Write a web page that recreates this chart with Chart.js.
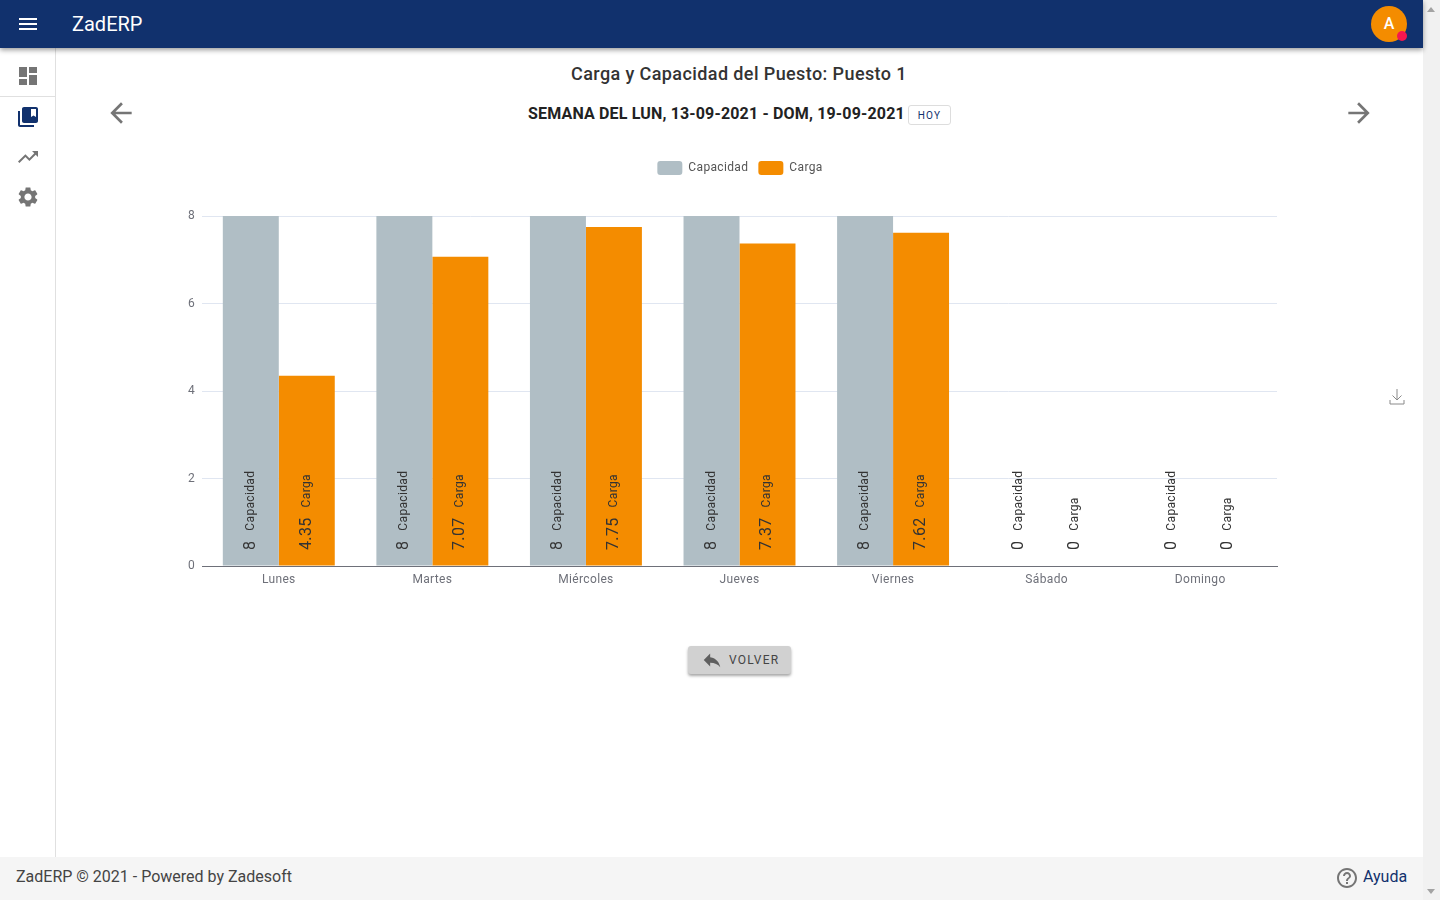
<!DOCTYPE html>
<html lang="es">
<head>
<meta charset="utf-8">
<title>ZadERP</title>
<script src="https://cdn.jsdelivr.net/npm/chart.js@4"></script>
<style>
  html, body { margin: 0; height: 100%; overflow: hidden; background: #fff; font-family: Roboto, sans-serif; }
  .abs { position: absolute; }
  svg { display: block; }
  .topbar { left: 0; top: 0; width: 1423px; height: 48px; background: #11316d; box-shadow: 0 2px 5px rgba(0,0,0,.4); z-index: 3; }
  .brand { left: 72px; top: 12px; color: #fff; font-size: 20px; line-height: 24px; }
  .avatar { left: 1371px; top: 6px; width: 36px; height: 36px; border-radius: 50%; background: #f48c00; color: #fff; font-size: 16px; font-weight: 500; line-height: 36px; text-align: center; }
  .dot { left: 1397px; top: 31px; width: 10px; height: 10px; border-radius: 50%; background: #f5174f; }
  .sidebar { left: 0; top: 48px; width: 55px; height: 809px; border-right: 1px solid #e0e0e0; }
  .divider { left: 0; top: 96px; width: 55px; height: 1px; background: #e0e0e0; }
  .title { left: 0; width: 1478px; top: 62px; text-align: center; font-size: 18px; font-weight: 500; letter-spacing: .4px; line-height: 24px; color: #333; }
  .week { left: 528px; top: 104px; font-size: 16px; font-weight: 700; letter-spacing: .16px; line-height: 20px; color: #222; white-space: nowrap; }
  .hoy { left: 908px; top: 105px; width: 41px; height: 18px; border: 1px solid #ddd; border-radius: 3px; color: #11316d; font-size: 10px; letter-spacing: 1.2px; line-height: 19px; text-align: center; }
  #chartBox { left: 140px; top: 150px; width: 1200px; height: 450px; }
  .volver { left: 688px; top: 646px; width: 103px; height: 28px; background: #d1d1d1; border-radius: 3px; box-shadow: 0 2px 3px rgba(0,0,0,.35); color: #444; font-size: 12px; letter-spacing: 1.2px; line-height: 28px; }
  .volver span { position: absolute; left: 41px; }
  .footer { left: 0; top: 857px; width: 1423px; height: 43px; background: #f5f5f5; color: #444; font-size: 16px; line-height: 39px; }
  .footer .copy { position: absolute; left: 16px; }
  .footer .ayuda { position: absolute; left: 1363px; color: #11316d; }
  .scroll { left: 1423px; top: 0; width: 17px; height: 900px; background: #f1f1f1; }
  .up { left: 1427px; top: 7px; width: 0; height: 0; border: 4px solid transparent; border-top: 0; border-bottom: 5px solid #a3a3a3; }
  .down { left: 1427px; top: 889px; width: 0; height: 0; border: 4px solid transparent; border-bottom: 0; border-top: 5px solid #a3a3a3; }
</style>
</head>
<body>

<div class="abs topbar">
  <svg class="abs" style="left:16px;top:12px" width="24" height="24" viewBox="0 0 24 24" fill="#fff"><path d="M3 18h18v-2H3v2zm0-5h18v-2H3v2zm0-7v2h18V6H3z"/></svg>
  <div class="abs brand">ZadERP</div>
  <div class="abs avatar">A</div>
  <div class="abs dot"></div>
</div>

<div class="abs sidebar"></div>
<div class="abs divider"></div>
<svg class="abs" style="left:16px;top:64px" width="24" height="24" viewBox="0 0 24 24" fill="#757575"><path d="M3 13h8V3H3v10zm0 8h8v-6H3v6zm10 0h8V11h-8v10zm0-18v6h8V3h-8z"/></svg>
<svg class="abs" style="left:16px;top:105px" width="24" height="24" viewBox="0 0 24 24" fill="#11316d"><path d="M4 6H2v14c0 1.1.9 2 2 2h14v-2H4V6zm16-4H8c-1.1 0-2 .9-2 2v12c0 1.1.9 2 2 2h12c1.1 0 2-.9 2-2V4c0-1.1-.9-2-2-2zm0 10l-2.5-1.5L15 12V4h5v8z"/></svg>
<svg class="abs" style="left:16px;top:145px" width="24" height="24" viewBox="0 0 24 24" fill="#757575"><path d="M16 6l2.29 2.29-4.88 4.88-4-4L2 16.59 3.41 18l6-6 4 4 6.3-6.29L22 12V6z"/></svg>
<svg class="abs" style="left:16px;top:185px" width="24" height="24" viewBox="0 0 24 24" fill="#757575"><path d="M19.14 12.94c.04-.3.06-.61.06-.94 0-.32-.02-.64-.07-.94l2.03-1.58c.18-.14.23-.41.12-.61l-1.92-3.32c-.12-.22-.37-.29-.59-.22l-2.39.96c-.5-.38-1.03-.7-1.62-.94l-.36-2.54c-.04-.24-.24-.41-.48-.41h-3.84c-.24 0-.43.17-.47.41l-.36 2.54c-.59.24-1.13.57-1.62.94l-2.39-.96c-.22-.08-.47 0-.59.22L2.74 8.87c-.12.21-.08.47.12.61l2.03 1.58c-.05.3-.09.63-.09.94s.02.64.07.94l-2.03 1.58c-.18.14-.23.41-.12.61l1.92 3.32c.12.22.37.29.59.22l2.39-.96c.5.38 1.03.7 1.62.94l.36 2.54c.05.24.24.41.48.41h3.84c.24 0 .44-.17.47-.41l.36-2.54c.59-.24 1.13-.56 1.62-.94l2.39.96c.22.08.47 0 .59-.22l1.92-3.32c.12-.22.07-.47-.12-.61l-2.01-1.58zM12 15.6c-1.98 0-3.6-1.62-3.6-3.6s1.62-3.6 3.6-3.6 3.6 1.62 3.6 3.6-1.62 3.6-3.6 3.6z"/></svg>

<div class="abs title">Carga y Capacidad del Puesto: Puesto 1</div>
<svg class="abs" style="left:105px;top:97px" width="32" height="32" viewBox="0 0 24 24" fill="#757575"><path d="M20 11H7.83l5.59-5.59L12 4l-8 8 8 8 1.41-1.41L7.83 13H20v-2z"/></svg>
<svg class="abs" style="left:1343px;top:97px" width="32" height="32" viewBox="0 0 24 24" fill="#757575"><path d="M12 4l-1.41 1.41L16.17 11H4v2h12.17l-5.58 5.59L12 20l8-8z"/></svg>
<div class="abs week">SEMANA DEL LUN, 13-09-2021 - DOM, 19-09-2021</div>
<div class="abs hoy">HOY</div>

<div class="abs" id="chartBox"><canvas id="cargaChart"></canvas></div>

<svg class="abs" style="left:1389px;top:388px" width="16" height="17" viewBox="0 0 16 17" fill="none" stroke="#8a8a8a" stroke-width="1"><path d="M8 1v11M3.5 7.5L8 12l4.5-4.5M1 12v4h14v-4"/></svg>

<div class="abs volver">
  <svg class="abs" style="left:13px;top:3px" width="22" height="22" viewBox="0 0 24 24" fill="#5f5f5f"><path d="M10 9V5l-7 7 7 7v-4.1c5 0 8.5 1.6 11 5.1-1-5-4-10-11-11z"/></svg>
  <span>VOLVER</span>
</div>

<div class="abs footer">
  <span class="copy">ZadERP © 2021 - Powered by Zadesoft</span>
  <svg class="abs" style="left:1335px;top:9px" width="24" height="24" viewBox="0 0 24 24" fill="#757575"><path d="M11 18h2v-2h-2v2zm1-16C6.48 2 2 6.48 2 12s4.48 10 10 10 10-4.48 10-10S17.52 2 12 2zm0 18c-4.41 0-8-3.59-8-8s3.59-8 8-8 8 3.59 8 8-3.59 8-8 8zm0-14c-2.21 0-4 1.79-4 4h2c0-1.1.9-2 2-2s2 .9 2 2c0 2-3 1.75-3 5h2c0-2.25 3-2.5 3-5 0-2.21-1.79-4-4-4z"/></svg>
  <span class="ayuda">Ayuda</span>
</div>

<div class="abs scroll"></div>
<div class="abs up"></div>
<div class="abs down"></div>

<script>
// chart data
const days = ['Lunes', 'Martes', 'Miércoles', 'Jueves', 'Viernes', 'Sábado', 'Domingo'];
const capacidad = [8, 8, 8, 8, 8, 0, 0];
const carga = [4.35, 7.07, 7.75, 7.37, 7.62, 0, 0];
const yTicks = [0, 2, 4, 6, 8];

const RIGHT_PAD = 63;

// slightly wider text, same as the original labels
const textSpacing = {
  id: 'textSpacing',
  beforeLayout(chart) { chart.ctx.letterSpacing = '0.35px'; },
  beforeDraw(chart) { chart.ctx.letterSpacing = '0.35px'; }
};

// legend is centred on the canvas, not the plot, and leaves room under it
const legendGap = {
  id: 'legendGap',
  beforeInit(chart) {
    const fit = chart.legend.fit;
    chart.legend.fit = function () {
      fit.call(this);
      this.height += 32;
    };
  },
  afterLayout(chart) {
    chart.legend.right += RIGHT_PAD;
    chart.legend.top += 1;
  }
};

// vertical labels at the foot of each bar: value, then series name
const barLabels = {
  id: 'barLabels',
  afterDatasetsDraw(chart) {
    const ctx = chart.ctx;
    const bottom = chart.scales.y.getPixelForValue(0);
    chart.data.datasets.forEach((ds, i) => {
      chart.getDatasetMeta(i).data.forEach((bar, j) => {
        const value = String(ds.data[j]);
        ctx.save();
        ctx.translate(bar.x, bottom - 16);
        ctx.rotate(-Math.PI / 2);
        ctx.textAlign = 'left';
        ctx.textBaseline = 'middle';
        ctx.fillStyle = '#333';
        ctx.font = '16px Roboto';
        ctx.fillText(value, 0, 0);
        const w = ctx.measureText(value).width;
        ctx.font = '12px Roboto';
        ctx.fillText(ds.label, w + 10, 0);
        ctx.restore();
      });
    });
  }
};

new Chart(document.getElementById('cargaChart'), {
  type: 'bar',
  data: {
    labels: days,
    datasets: [
      { label: 'Capacidad', data: capacidad, backgroundColor: '#b0bec5' },
      { label: 'Carga', data: carga, backgroundColor: '#f48c00' }
    ]
  },
  options: {
    responsive: true,
    maintainAspectRatio: false,
    animation: false,
    categoryPercentage: 0.729,
    barPercentage: 1,
    layout: { padding: { right: RIGHT_PAD } },
    plugins: {
      tooltip: { enabled: false },
      legend: {
        position: 'top',
        labels: {
          boxWidth: 25,
          boxHeight: 14,
          padding: 10,
          color: '#555',
          font: { family: 'Roboto', size: 12 },
          useBorderRadius: true,
          borderRadius: 3
        }
      }
    },
    scales: {
      x: {
        grid: { display: false, drawTicks: false },
        border: { color: '#6e7079' },
        ticks: { color: '#6e7079', padding: 7, font: { family: 'Roboto', size: 12 } },
        afterFit(scale) { scale.height = 34; }
      },
      y: {
        min: 0,
        max: 8,
        afterBuildTicks(scale) { scale.ticks = yTicks.map(v => ({ value: v })); },
        grid: { color: '#e0e6f1', drawTicks: false },
        border: { display: false },
        ticks: { color: '#6e7079', padding: 7, font: { family: 'Roboto', size: 12 } },
        afterFit(scale) { scale.width = 62; }
      }
    }
  },
  plugins: [textSpacing, legendGap, barLabels]
});
</script>
</body>
</html>
